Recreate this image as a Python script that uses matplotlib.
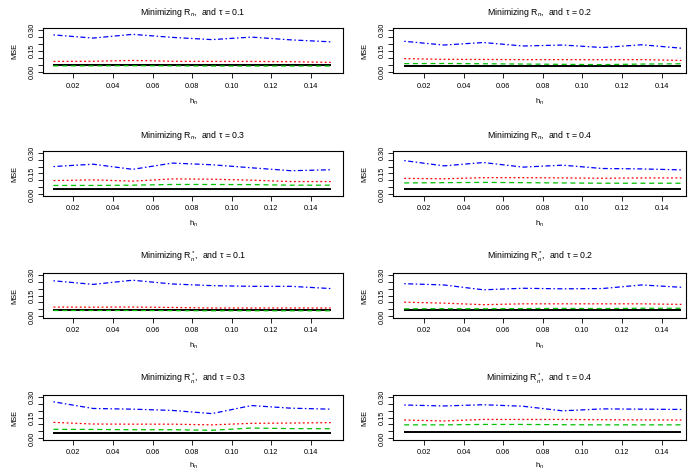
import matplotlib
matplotlib.use("Agg")
import matplotlib.pyplot as plt

plt.rcParams['font.family'] = ['Liberation Sans', 'DejaVu Sans']
plt.rcParams['mathtext.fontset'] = 'custom'
plt.rcParams['mathtext.rm'] = 'Liberation Sans'
plt.rcParams['mathtext.it'] = 'Liberation Sans:italic'

# ---------------- data ----------------
h_n = [0.01, 0.03, 0.05, 0.07, 0.09, 0.11, 0.13, 0.15]

estimators = [r"$\mathrm{R}_n$", r"$\mathrm{R}_n$", r"$\mathrm{R}_n$", r"$\mathrm{R}_n$",
              r"$\mathrm{R}_n^*$", r"$\mathrm{R}_n^*$", r"$\mathrm{R}_n^*$", r"$\mathrm{R}_n^*$"]
taus = ["0.1", "0.2", "0.3", "0.4", "0.1", "0.2", "0.3", "0.4"]

mse_blue = [
    [0.266, 0.243, 0.270, 0.248, 0.232, 0.250, 0.230, 0.216],
    [0.220, 0.193, 0.211, 0.186, 0.193, 0.175, 0.195, 0.170],
    [0.200, 0.217, 0.180, 0.225, 0.213, 0.191, 0.170, 0.177],
    [0.243, 0.205, 0.229, 0.196, 0.210, 0.186, 0.183, 0.176],
    [0.256, 0.230, 0.260, 0.233, 0.221, 0.216, 0.216, 0.200],
    [0.235, 0.226, 0.191, 0.202, 0.198, 0.200, 0.226, 0.209],
    [0.263, 0.215, 0.210, 0.201, 0.178, 0.236, 0.217, 0.210],
    [0.240, 0.233, 0.242, 0.231, 0.198, 0.212, 0.210, 0.208],
]
mse_red = [
    [0.075, 0.076, 0.082, 0.076, 0.075, 0.075, 0.073, 0.068],
    [0.095, 0.090, 0.089, 0.088, 0.088, 0.087, 0.088, 0.082],
    [0.099, 0.104, 0.095, 0.111, 0.109, 0.102, 0.092, 0.092],
    [0.115, 0.112, 0.120, 0.120, 0.118, 0.116, 0.118, 0.118],
    [0.067, 0.066, 0.067, 0.064, 0.060, 0.060, 0.060, 0.060],
    [0.102, 0.095, 0.084, 0.090, 0.090, 0.090, 0.090, 0.086],
    [0.115, 0.103, 0.102, 0.102, 0.097, 0.108, 0.110, 0.113],
    [0.132, 0.125, 0.136, 0.136, 0.136, 0.134, 0.133, 0.132],
]
mse_green = [
    [0.043, 0.043, 0.044, 0.043, 0.042, 0.042, 0.042, 0.042],
    [0.059, 0.060, 0.058, 0.056, 0.054, 0.052, 0.056, 0.058],
    [0.064, 0.064, 0.066, 0.071, 0.071, 0.070, 0.066, 0.066],
    [0.082, 0.084, 0.086, 0.084, 0.082, 0.080, 0.080, 0.080],
    [0.042, 0.042, 0.042, 0.041, 0.040, 0.040, 0.040, 0.040],
    [0.054, 0.055, 0.054, 0.056, 0.057, 0.056, 0.058, 0.058],
    [0.065, 0.064, 0.062, 0.062, 0.058, 0.074, 0.070, 0.069],
    [0.097, 0.097, 0.100, 0.100, 0.098, 0.097, 0.097, 0.097],
]
mse_black = [
    [0.046, 0.046, 0.046, 0.046, 0.046, 0.046, 0.046, 0.046],
    [0.045, 0.045, 0.045, 0.045, 0.045, 0.045, 0.045, 0.045],
    [0.038, 0.038, 0.038, 0.038, 0.038, 0.038, 0.038, 0.038],
    [0.035, 0.035, 0.035, 0.035, 0.035, 0.035, 0.035, 0.035],
    [0.044, 0.044, 0.044, 0.044, 0.044, 0.044, 0.044, 0.044],
    [0.047, 0.047, 0.047, 0.047, 0.047, 0.047, 0.047, 0.047],
    [0.042, 0.042, 0.042, 0.042, 0.042, 0.042, 0.042, 0.042],
    [0.046, 0.046, 0.046, 0.046, 0.046, 0.046, 0.046, 0.046],
]

# ---------------- layout ----------------
W, H = 693, 474
fig = plt.figure(figsize=(W / 100, H / 100), dpi=100)

col_left = [43.3, 393.3]
col_width = [299.7, 292.7]
col_xlim = [(0.00485, 0.1562), (0.00449, 0.1523)]
row_top = [28.5, 151.0, 273.0, 395.0]
box_h = 45.0
xlab_off = [28.0, 28.0, 27.5, 25.5]

yt = [0.0, 0.05, 0.10, 0.15, 0.20, 0.25, 0.30]
ytl = ["0.00", "", "", "0.15", "", "", "0.30"]
xt = [0.02, 0.04, 0.06, 0.08, 0.10, 0.12, 0.14]
xtl = ["0.02", "0.04", "0.06", "0.08", "0.10", "0.12", "0.14"]

fs_tick = 5.3
fs_title = 6.3

for i in range(8):
    r, c = divmod(i, 2)
    l, t, w = col_left[c], row_top[r], col_width[c]
    ax = fig.add_axes([l / W, 1 - (t + box_h) / H, w / W, box_h / H])

    ax.plot(h_n, mse_black[i], color="black", lw=1.4, solid_capstyle="butt")
    ax.plot(h_n, mse_green[i], color="#00C000", lw=0.9, linestyle=(0, (4, 3)))
    ax.plot(h_n, mse_red[i], color="#FF0000", lw=0.9, linestyle=(0, (1.5, 2)))
    ax.plot(h_n, mse_blue[i], color="#0000FF", lw=0.9, linestyle=(0, (1.2, 2, 4, 2)))

    ax.set_xlim(*col_xlim[c])
    ax.set_ylim(-0.012, 0.312)
    ax.set_xticks(xt)
    ax.set_xticklabels(xtl)
    ax.set_yticks(yt)
    ax.set_yticklabels(ytl, rotation=90, va="center")
    ax.tick_params(axis="x", labelsize=fs_tick, length=3.6, width=0.6, pad=3.2)
    ax.tick_params(axis="y", labelsize=fs_tick, length=3.6, width=0.6, pad=1.5)
    for s in ax.spines.values():
        s.set_linewidth(0.8)

    ax.text(0.5, 1 + 15.8 / box_h, "Minimizing " + estimators[i] + ",  and τ = " + taus[i],
            transform=ax.transAxes, ha="center", va="center", fontsize=fs_title)
    ax.text(-28 / w, 0.5, "MSE", transform=ax.transAxes, ha="center", va="center",
            rotation=90, fontsize=fs_tick)
    ax.text(0.5, -xlab_off[r] / box_h, r"$\mathrm{h}_n$", transform=ax.transAxes, ha="center",
            va="center", fontsize=fs_tick + 0.3)

fig.savefig("out.png", dpi=100)
